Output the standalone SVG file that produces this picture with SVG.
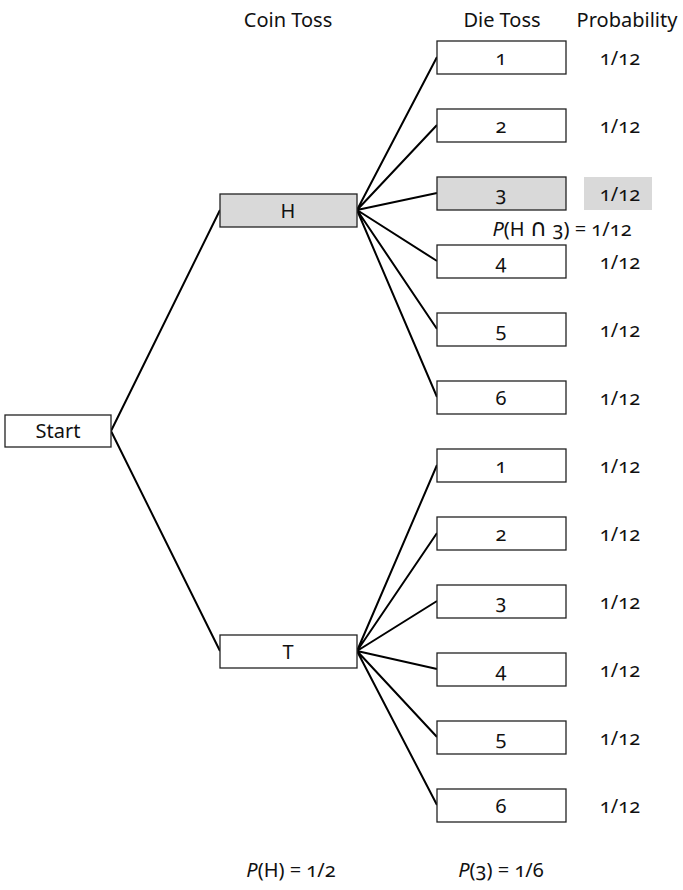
<svg xmlns="http://www.w3.org/2000/svg" width="683" height="890" viewBox="0 0 683 890">
<style>
text{font-family:"Noto Sans","Open Sans","Liberation Sans",sans-serif;font-size:20px;fill:#111;text-anchor:middle;font-variant-numeric:oldstyle-nums;font-feature-settings:"onum" 1}
.box{fill:#fff;stroke:#222;stroke-width:1.3}
.hl{fill:#d9d9d9}
.edge{stroke:#000;stroke-width:2;fill:none}
.it{font-style:italic}
.cap{font-family:"DejaVu Sans",sans-serif;font-size:24px}
</style>
<rect width="683" height="890" fill="#fff"/>
<text x="288" y="27">Coin Toss</text>
<text x="502" y="27">Die Toss</text>
<text x="627" y="27">Probability</text>
<g id="connectors">
<path class="edge" d="M111 431L220 210M111 431L220 651"/>
<path class="edge" d="M357 210L437 57M357 210L437 125M357 210L437 193M357 210L437 261M357 210L437 329M357 210L437 397"/>
<path class="edge" d="M357 651L437 465M357 651L437 533M357 651L437 601M357 651L437 669M357 651L437 737M357 651L437 805"/>
</g>
<g id="start"><rect class="box" x="5" y="415" width="106" height="32"/><text x="58" y="438">Start</text></g>
<g id="H"><rect class="box hl" x="220" y="194" width="137" height="33"/><text x="288" y="218">H</text></g>
<g id="T"><rect class="box" x="220" y="635" width="137" height="33"/><text x="288" y="659">T</text></g>
<g id="H1"><rect class="box" x="437" y="41" width="129" height="33"/><text x="501" y="65">1</text></g>
<g id="H2"><rect class="box" x="437" y="109" width="129" height="33"/><text x="501" y="133">2</text></g>
<g id="H3"><rect class="box hl" x="437" y="177" width="129" height="33"/><text x="501" y="201">3</text></g>
<g id="H4"><rect class="box" x="437" y="245" width="129" height="33"/><text x="501" y="269">4</text></g>
<g id="H5"><rect class="box" x="437" y="313" width="129" height="33"/><text x="501" y="337">5</text></g>
<g id="H6"><rect class="box" x="437" y="381" width="129" height="33"/><text x="501" y="405">6</text></g>
<g id="T1"><rect class="box" x="437" y="449" width="129" height="33"/><text x="501" y="473">1</text></g>
<g id="T2"><rect class="box" x="437" y="517" width="129" height="33"/><text x="501" y="541">2</text></g>
<g id="T3"><rect class="box" x="437" y="585" width="129" height="33"/><text x="501" y="609">3</text></g>
<g id="T4"><rect class="box" x="437" y="653" width="129" height="33"/><text x="501" y="677">4</text></g>
<g id="T5"><rect class="box" x="437" y="721" width="129" height="33"/><text x="501" y="745">5</text></g>
<g id="T6"><rect class="box" x="437" y="789" width="129" height="33"/><text x="501" y="813">6</text></g>
<g id="probs">
<rect x="584" y="177" width="68" height="33" fill="#d9d9d9"/>
<text x="620" y="65">1/12</text>
<text x="620" y="133">1/12</text>
<text x="620" y="201">1/12</text>
<text x="620" y="269">1/12</text>
<text x="620" y="337">1/12</text>
<text x="620" y="405">1/12</text>
<text x="620" y="473">1/12</text>
<text x="620" y="541">1/12</text>
<text x="620" y="609">1/12</text>
<text x="620" y="677">1/12</text>
<text x="620" y="745">1/12</text>
<text x="620" y="813">1/12</text>
</g>
<text x="562" y="236"><tspan class="it">P</tspan>(H <tspan class="cap">∩</tspan> 3) = 1/12</text>
<text x="291" y="877"><tspan class="it">P</tspan>(H) = 1/2</text>
<text x="501" y="877"><tspan class="it">P</tspan>(3) = 1/6</text>
</svg>
